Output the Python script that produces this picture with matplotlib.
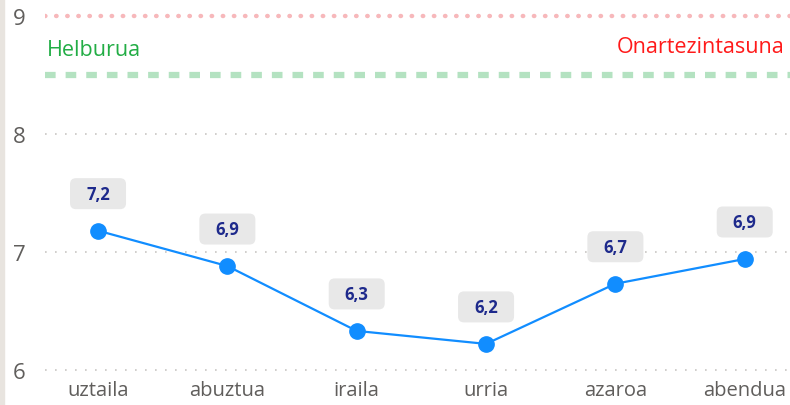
import matplotlib.pyplot as plt
import matplotlib.patches as mpatches
import matplotlib.transforms as mtransforms

months = ['uztaila', 'abuztua', 'iraila', 'urria', 'azaroa', 'abendua']
values = [7.18, 6.88, 6.33, 6.22, 6.73, 6.94]
value_labels = ['7,2', '6,9', '6,3', '6,2', '6,7', '6,9']
target = 8.5
limit = 9.0
yticks = [6, 7, 8, 9]

plt.rcParams['font.family'] = ['Open Sans', 'DejaVu Sans']

W, H = 790, 406
fig = plt.figure(figsize=(W / 100, H / 100), dpi=100)
ax = fig.add_axes([45 / W, 21 / H, 1 - 45 / W, 384.5 / H])

# gray strip on the far left
fig.patches.append(mpatches.Rectangle((0, 0), 4 / W, 1, transform=fig.transFigure,
                                      color='#e8e4df', zorder=0))

x = list(range(len(months)))

ax.set_xlim(-0.41, 5.35)
ax.set_ylim(5.88, 9.14)

# grid lines (not at 9, the limit line sits there)
for y in yticks[:-1]:
    ax.axhline(y, color='#c8c6c4', linestyle=(0, (1, 5)), linewidth=1.2, zorder=1)

# limit line (dotted red) and target line (dashed green)
ax.axhline(limit, color='#f7b8bb', linestyle=(0, (0.1, 2.4)), linewidth=3.2,
           dash_capstyle='round', zorder=1)
ax.axhline(target, color='#b4e2c1', linestyle=(0, (1.7, 1.6)), linewidth=4.5, zorder=1)

ax.text(0.003, 8.72, 'Helburua', transform=ax.get_yaxis_transform(),
        color='#22ad45', fontsize=15.5, ha='left', va='center')
ax.text(0.993, 8.745, 'Onartezintasuna', transform=ax.get_yaxis_transform(),
        color='#ff1a1a', fontsize=15.5, ha='right', va='center')

ax.plot(x, values, color='#118dff', linewidth=1.6, marker='o', markersize=11,
        zorder=3)

# value labels in rounded gray boxes, 37 px above each point
for xi, v, lab in zip(x, values, value_labels):
    px, py = ax.transData.transform((xi, v))
    trans = mtransforms.Affine2D().translate(px, py)
    box = mpatches.FancyBboxPatch((-28, 37 - 15.5), 56, 31,
                                  boxstyle='round,pad=0,rounding_size=6',
                                  fc='#e8e8e8', ec='none', transform=trans,
                                  zorder=4, clip_on=False)
    ax.add_patch(box)
    ax.annotate(lab, (xi, v), xytext=(0, 37), textcoords='offset pixels',
                ha='center', va='center', fontsize=12, fontweight='bold',
                color='#1e2a8c', zorder=5)

ax.set_xticks(x)
ax.set_xticklabels(months)
ax.set_yticks(yticks)
ax.tick_params(axis='x', length=0, pad=-3, labelsize=14.5, labelcolor='#605e5c')
ax.tick_params(axis='y', length=0, pad=14, labelsize=16, labelcolor='#605e5c')
for s in ax.spines.values():
    s.set_visible(False)

fig.savefig('out.png', dpi=100)
